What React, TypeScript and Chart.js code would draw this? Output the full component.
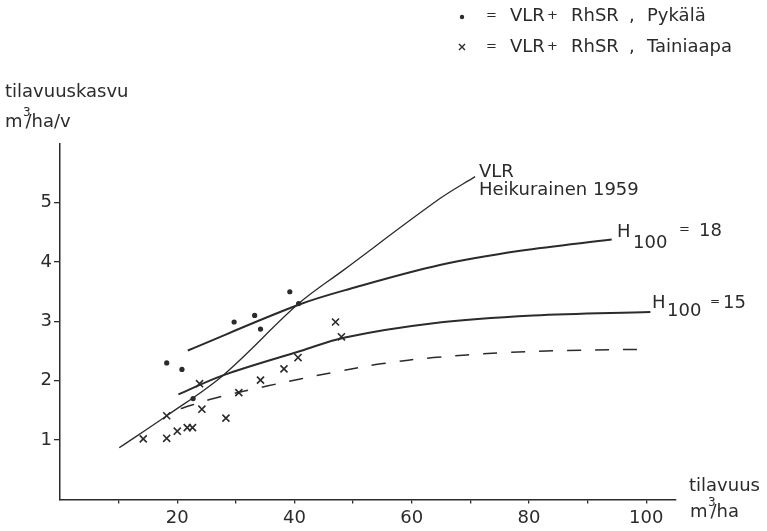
import React, { useEffect, useRef } from "react";
import { Chart, registerables } from "chart.js";

Chart.register(...registerables);

// ---- data ----
const xTickValues = [10, 20, 30, 40, 50, 60, 70, 80, 90, 100];
const xLabelledTicks = [20, 40, 60, 80, 100];
const yTickValues = [1, 2, 3, 4, 5];

const pykalaX = [18.2, 20.8, 22.7, 29.7, 33.2, 34.2, 39.2, 40.7];
const pykalaY = [2.3, 2.19, 1.7, 2.99, 3.1, 2.87, 3.5, 3.3];

const tainiaapaX = [14.2, 18.2, 18.2, 20.0, 21.7, 22.6, 23.8, 24.2, 28.3, 30.5, 34.2, 38.2, 40.6, 47.0, 48.0];
const tainiaapaY = [1.02, 1.03, 1.41, 1.15, 1.21, 1.21, 1.95, 1.52, 1.37, 1.8, 2.01, 2.2, 2.39, 2.99, 2.74];

const vlrX = [10.1, 18.2, 27.8, 40.7, 48.3, 64.8, 70.8];
const vlrY = [0.87, 1.41, 2.09, 3.3, 3.86, 5.07, 5.44];

const h18X = [21.8, 40.7, 49.5, 64.8, 78.5, 94.1];
const h18Y = [2.51, 3.28, 3.55, 3.95, 4.19, 4.38];

const h15X = [20.2, 27.8, 41.0, 48.6, 63.7, 80.7, 100.7];
const h15Y = [1.77, 2.09, 2.5, 2.73, 2.97, 3.1, 3.16];

const dashX = [20.6, 26.2, 35.3, 41.0, 46.6, 55.1, 63.7, 75.1, 86.5, 100.7];
const dashY = [1.53, 1.7, 1.91, 2.03, 2.14, 2.29, 2.39, 2.47, 2.51, 2.53];

const INK = "#2b2b2b";
const FONT = '"DejaVu Sans", sans-serif';

const pts = (xs: number[], ys: number[]) => xs.map((x, i) => ({ x, y: ys[i] }));

const annotations = {
  id: "annotations",
  afterDraw(chart: any) {
    const ctx: CanvasRenderingContext2D = chart.ctx;
    ctx.save();
    ctx.fillStyle = INK;
    ctx.strokeStyle = INK;
    ctx.textBaseline = "middle";
    ctx.textAlign = "left";
    const t = (s: string, x: number, y: number, size = 18) => {
      ctx.font = `${size}px ${FONT}`;
      ctx.fillText(s, x, y);
      return ctx.measureText(s).width;
    };
    const unit = (pre: string, post: string, x: number, y: number) => {
      const w = t(pre, x, y);
      t("3", x + w + 0.5, y - 9, 12);
      t(post, x + w + 3, y);
    };

    // legend
    ctx.beginPath();
    ctx.arc(462, 17, 2.2, 0, Math.PI * 2);
    ctx.fill();
    ctx.lineWidth = 1.4;
    ctx.beginPath();
    ctx.moveTo(459, 44);
    ctx.lineTo(465, 50);
    ctx.moveTo(465, 44);
    ctx.lineTo(459, 50);
    ctx.stroke();
    const rows: [number, string][] = [
      [16, "Pykälä"],
      [47, "Tainiaapa"],
    ];
    for (const [y, name] of rows) {
      t("=", 486, y, 13);
      t("VLR", 510, y);
      t("+", 547, y, 13);
      t("RhSR", 571, y);
      t(",", 629, y);
      t(name, 647, y);
    }

    // axis titles
    t("tilavuuskasvu", 5, 92);
    unit("m", "/ha/v", 5, 122);
    t("tilavuus", 689, 486);
    unit("m", "/ha", 690, 512);

    // curve labels
    t("VLR", 479, 172);
    t("Heikurainen 1959", 479, 190);
    t("H", 617, 232);
    t("100", 633, 243);
    t("=", 679, 230, 13);
    t("18", 699, 231);
    t("H", 652, 303);
    t("100", 667, 311);
    t("=", 710, 302, 12);
    t("15", 723, 303);
    ctx.restore();
  },
};

export default function App() {
  const ref = useRef<HTMLCanvasElement | null>(null);
  useEffect(() => {
    if (!ref.current) return;
    const line = (data: any, width: number, dash: number[] = []) => ({
      data,
      showLine: true,
      borderColor: INK,
      borderWidth: width,
      borderDash: dash,
      pointRadius: 0,
      tension: 0.35,
      fill: false,
    });
    const chart = new Chart(ref.current, {
      type: "scatter",
      data: {
        datasets: [
          line(pts(vlrX, vlrY), 1.3) as any,
          line(pts(h18X, h18Y), 2) as any,
          line(pts(h15X, h15Y), 2) as any,
          line(pts(dashX, dashY), 1.5, [14, 14]) as any,
          {
            data: pts(pykalaX, pykalaY),
            pointStyle: "circle",
            pointRadius: 2.6,
            backgroundColor: INK,
            borderColor: INK,
            borderWidth: 0,
          },
          {
            data: pts(tainiaapaX, tainiaapaY),
            pointStyle: "crossRot",
            pointRadius: 5,
            borderColor: INK,
            borderWidth: 1.6,
          },
        ],
      },
      options: {
        responsive: false,
        animation: false,
        layout: { padding: { left: 0, right: 91.4, top: 143.4, bottom: 0 } },
        plugins: { legend: { display: false }, tooltip: { enabled: false } },
        scales: {
          x: {
            type: "linear",
            min: 0,
            max: 105,
            afterFit: (s: any) => {
              s.height = 31.6;
            },
            afterBuildTicks: (s: any) => {
              s.ticks = xTickValues.map((v) => ({ value: v }));
            },
            border: { display: true, color: INK, width: 1.5 },
            grid: { drawOnChartArea: false, drawTicks: true, tickLength: 4, tickColor: INK, lineWidth: 1.3 },
            ticks: {
              autoSkip: false,
              maxRotation: 0,
              padding: 4,
              color: INK,
              font: { family: FONT, size: 18 },
              callback: (v: any) => (xLabelledTicks.includes(Number(v)) ? String(v) : ""),
            },
          },
          y: {
            type: "linear",
            min: 0,
            max: 6,
            afterFit: (s: any) => {
              s.width = 60;
            },
            afterBuildTicks: (s: any) => {
              s.ticks = yTickValues.map((v) => ({ value: v }));
            },
            border: { display: true, color: INK, width: 1.5 },
            grid: { drawOnChartArea: false, drawTicks: true, tickLength: 6, tickColor: INK, lineWidth: 1.3 },
            ticks: {
              autoSkip: false,
              padding: 2,
              color: INK,
              font: { family: FONT, size: 18 },
              callback: (v: any) => String(v),
            },
          },
        },
      },
      plugins: [annotations as any],
    });
    return () => chart.destroy();
  }, []);
  return (
    <div style={{ position: "fixed", left: 0, top: 0, width: 767, height: 531, background: "#fff" }}>
      <canvas ref={ref} width={767} height={531} style={{ display: "block" }} />
    </div>
  );
}
